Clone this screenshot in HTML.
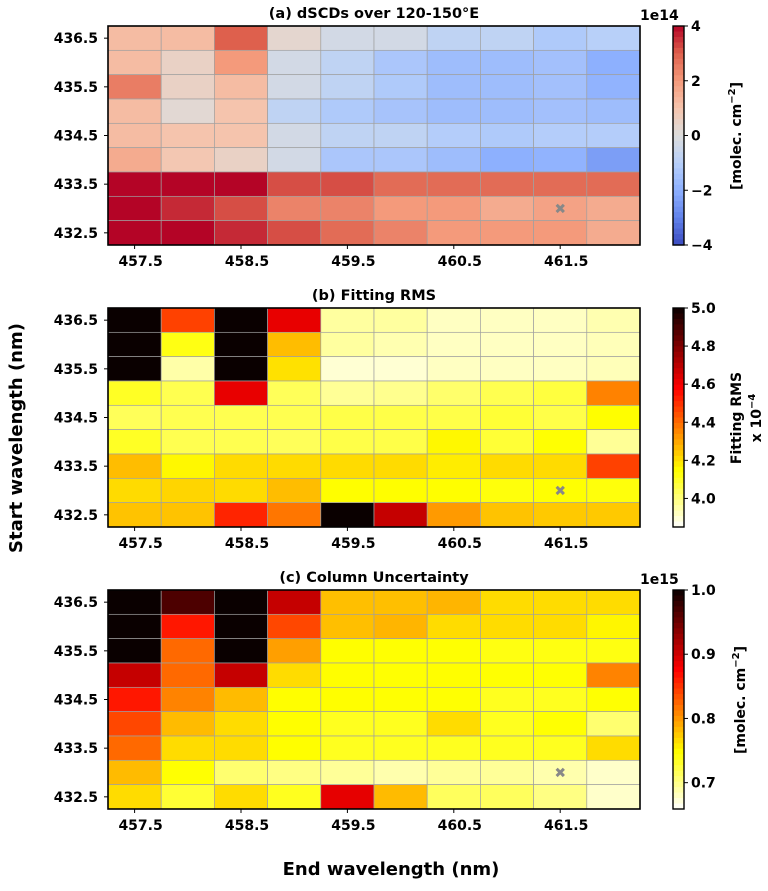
<!DOCTYPE html>
<html><head><meta charset="utf-8"><style>
body{margin:0;background:#fff;}
svg text{font-family:"DejaVu Sans","Liberation Sans",sans-serif;font-weight:bold;fill:#000;}
</style></head><body>
<svg id="fig" width="768" height="886" xmlns="http://www.w3.org/2000/svg">
<text x="391" y="875" font-size="18" text-anchor="middle">End wavelength (nm)</text>
<text transform="translate(22,438) rotate(-90)" font-size="18" text-anchor="middle">Start wavelength (nm)</text>
</svg>
<script>
const endWl = [457.5,458.0,458.5,459.0,459.5,460.0,460.5,461.0,461.5,462.0];
const startWl = [436.5,436.0,435.5,435.0,434.5,434.0,433.5,433.0,432.5];
const xTickLabels = ["457.5","458.5","459.5","460.5","461.5"];
const yTickLabels = ["436.5","435.5","434.5","433.5","432.5"];
const selEnd = 461.5, selStart = 433.0;
// Panel (a) dSCDs, units 1e14 (rows top to bottom = startWl)
const dscdValues = [
 [1.2,1.2,3.0,0.3,-0.3,-0.3,-0.8,-0.8,-1.2,-1.0],
 [1.2,0.5,2.0,-0.3,-0.8,-1.3,-1.6,-1.6,-1.5,-2.0],
 [2.5,0.5,1.2,-0.3,-0.8,-1.2,-1.6,-1.6,-1.5,-1.9],
 [1.2,0.2,1.0,-0.8,-1.2,-1.4,-1.6,-1.6,-1.5,-1.6],
 [1.2,1.0,1.0,-0.3,-0.8,-0.8,-1.1,-1.2,-1.1,-1.1],
 [1.6,0.9,0.5,-0.3,-1.3,-1.3,-1.6,-2.0,-1.9,-2.4],
 [4,4,4,3.2,3.2,2.8,2.8,2.8,2.8,2.8],
 [4,3.6,3.2,2.4,2.4,2.0,2.0,1.6,1.8,1.6],
 [4,4,3.6,3.2,2.8,2.4,2.0,2.0,2.0,1.6]];
// Panel (b) fitting RMS x1e-4
const rmsValues = [
 [5.0,4.47,5.0,4.62,3.96,3.96,3.92,3.92,3.92,3.94],
 [5.0,4.12,5.0,4.26,3.96,3.94,3.92,3.92,3.92,3.93],
 [5.0,3.95,5.0,4.2,3.9,3.9,3.92,3.92,3.92,3.93],
 [4.1,4.05,4.62,4.04,3.97,3.98,4.02,4.05,4.07,4.36],
 [4.04,4.05,4.05,4.05,4.06,4.06,4.06,4.08,4.06,4.15],
 [4.1,4.05,4.05,4.04,4.06,4.06,4.16,4.08,4.14,3.97],
 [4.26,4.16,4.21,4.21,4.21,4.21,4.18,4.21,4.21,4.47],
 [4.21,4.22,4.21,4.26,4.15,4.15,4.15,4.13,4.14,4.13],
 [4.25,4.25,4.52,4.38,5.0,4.68,4.32,4.25,4.24,4.24]];
// Panel (c) column uncertainty, units 1e15
const uncValues = [
 [1.0,0.966,1.0,0.905,0.78,0.78,0.785,0.765,0.765,0.765],
 [1.0,0.864,1.0,0.84,0.78,0.785,0.765,0.765,0.765,0.752],
 [1.0,0.823,1.0,0.796,0.748,0.745,0.745,0.74,0.74,0.74],
 [0.905,0.823,0.905,0.765,0.748,0.745,0.748,0.745,0.745,0.81],
 [0.864,0.81,0.782,0.748,0.748,0.745,0.745,0.735,0.735,0.745],
 [0.84,0.782,0.765,0.748,0.735,0.735,0.765,0.735,0.745,0.708],
 [0.823,0.765,0.765,0.748,0.735,0.735,0.735,0.735,0.735,0.765],
 [0.782,0.745,0.708,0.701,0.694,0.687,0.694,0.694,0.687,0.677],
 [0.765,0.728,0.765,0.735,0.888,0.782,0.714,0.714,0.701,0.677]];
const cbTicksA = [4,2,0,-2,-4];
const cbTicksB = [5.0,4.8,4.6,4.4,4.2,4.0];
const cbTicksC = [1.0,0.9,0.8,0.7];

const NS="http://www.w3.org/2000/svg";
const svg=document.getElementById('fig');
function el(t,a,p){const e=document.createElementNS(NS,t);for(const k in a)e.setAttribute(k,a[k]);(p||svg).appendChild(e);return e;}
function lerp(a,b,t){return a+(b-a)*t;}
function interp(stops,t){t=Math.max(0,Math.min(1,t));const n=stops.length-1;const i=Math.min(n-1,Math.floor(t*n));const f=t*n-i;const a=stops[i],b=stops[i+1];return `rgb(${Math.round(lerp(a[0],b[0],f))},${Math.round(lerp(a[1],b[1],f))},${Math.round(lerp(a[2],b[2],f))})`;}
const cw=[[59,76,192],[98,130,234],[141,176,254],[184,208,249],[221,221,221],[245,196,173],[244,154,123],[222,96,77],[180,4,38]];
function coolwarm(t){return interp(cw,t);}
function hotr(n){const t=1-Math.max(0,Math.min(1,n));const r=Math.min(1,t/0.365),g=Math.max(0,Math.min(1,(t-0.365)/0.375)),b=Math.max(0,Math.min(1,(t-0.746)/0.254));return `rgb(${Math.round(10+245*r)},${Math.round(255*g)},${Math.round(255*b)})`;}

const X0=108,X1=640,W=(X1-X0)/endWl.length;
function xPos(e){return X0+(e-endWl[0])/0.5*W;}
function panel(top,title,vals,vmin,vmax,cmap,ticks,fmt,cbLabel,exp,name){
  const H=(219)/startWl.length, Y0=top;
  function yPos(s){return Y0+(startWl[0]-s)/0.5*H;}
  const g=el('g',{});
  el('text',{x:374,y:top-8,'font-size':14.5,'text-anchor':'middle',},g).textContent=title;
  vals.forEach((row,ri)=>row.forEach((v,ci)=>{
    const r=el('rect',{x:xPos(endWl[ci]),y:yPos(startWl[ri]),width:W,height:H,fill:cmap((v-vmin)/(vmax-vmin)),stroke:'#a0a0a0','stroke-width':0.7},g);
    
    
  }));
  const m=el('text',{x:xPos(selEnd)+W/2,y:yPos(selStart)+H/2+5,'font-size':14,'text-anchor':'middle',style:'fill:#888'},g);
  m.textContent='✖';
  el('rect',{x:X0,y:Y0,width:X1-X0,height:219,fill:'none',stroke:'#000','stroke-width':1.6,},g);
  xTickLabels.forEach(l=>{const x=xPos(parseFloat(l))+W/2;el('line',{x1:x,x2:x,y1:Y0+219,y2:Y0+223,stroke:'#000'},g);
    const t=el('text',{x:x+6,y:Y0+240,'font-size':14,'text-anchor':'middle'},g);t.textContent=l;});
  yTickLabels.forEach(l=>{const y=yPos(parseFloat(l))+H/2;el('line',{x1:X0-4,x2:X0,y1:y,y2:y,stroke:'#000'},g);
    const t=el('text',{x:X0-10,y:y+5,'font-size':14,'text-anchor':'end'},g);t.textContent=l;});
  const cx=673,cwid=11,N=40;
  for(let i=0;i<N;i++){const v=vmax-(i+0.5)*(vmax-vmin)/N;el('rect',{x:cx,y:Y0+i*219/N,width:cwid,height:219/N+0.6,fill:cmap((v-vmin)/(vmax-vmin))},g);}
  el('rect',{x:cx,y:Y0,width:cwid,height:219,fill:'none',stroke:'#000','stroke-width':1.4,},g);
  ticks.forEach(v=>{const y=Y0+(vmax-v)/(vmax-vmin)*219;el('line',{x1:cx+cwid,x2:cx+cwid+4,y1:y,y2:y,stroke:'#000'},g);
    const t=el('text',{x:cx+cwid+7,y:y+5,'font-size':14},g);t.textContent=fmt(v);});
  if(exp){const t=el('text',{x:640,y:top-6,'font-size':14},g);t.textContent=exp;}
  const lb=el('g',{transform:`translate(${cbLabel[2]},${top+110}) rotate(-90)`,},g);
  cbLabel[0].forEach((s,i)=>{const t=el('text',{x:0,y:i*20,'font-size':14,'text-anchor':'middle'},lb);t.innerHTML=s;});
}
const mol='[molec. cm<tspan dy="-6" font-size="10">−2</tspan><tspan dy="6">]</tspan>';
panel(26,'(a) dSCDs over 120-150°E',dscdValues,-4,4,coolwarm,cbTicksA,v=>v<0?'−'+(-v):String(v),[[mol],0,741],'1e14','panel-a');
panel(308,'(b) Fitting RMS',rmsValues,3.85,5.0,hotr,cbTicksB,v=>v.toFixed(1),[['Fitting RMS','x 10<tspan dy="-6" font-size="10">−4</tspan>'],0,741],null,'panel-b');
panel(590,'(c) Column Uncertainty',uncValues,0.659,1.0,hotr,cbTicksC,v=>v.toFixed(1),[[mol],0,745],'1e15','panel-c');
</script>
</body></html>
